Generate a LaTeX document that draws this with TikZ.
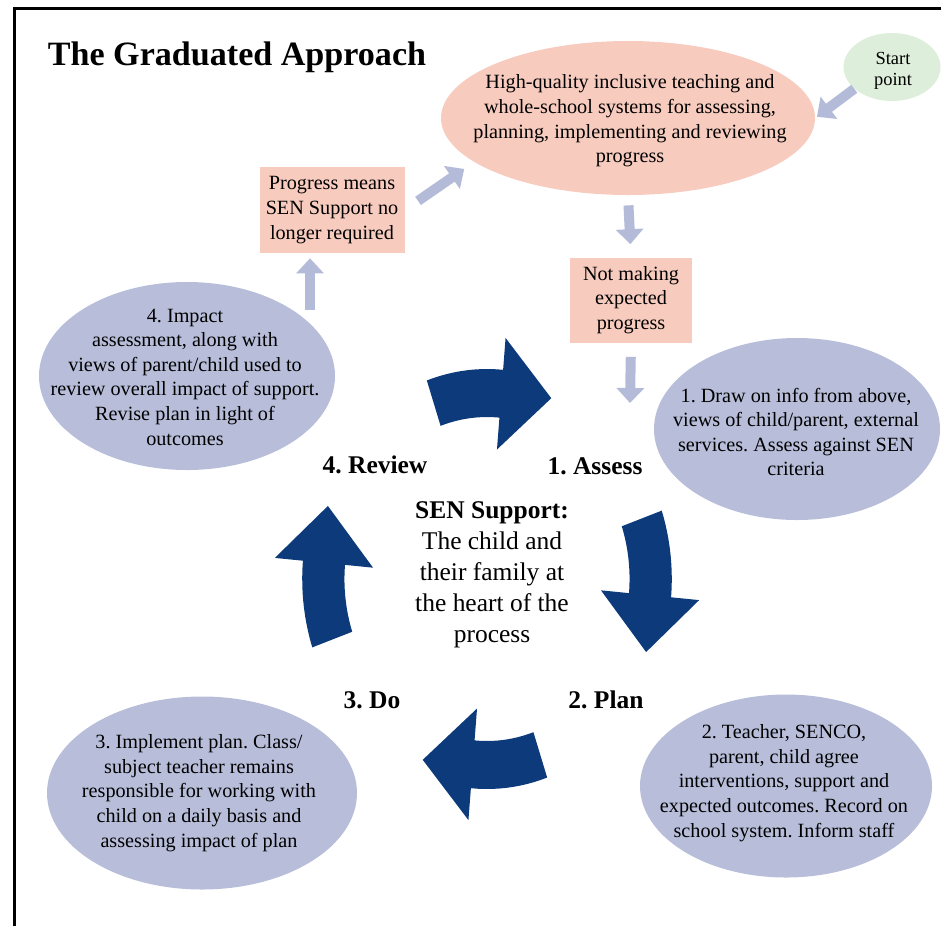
\documentclass[tikz,border=0pt]{standalone}
\usepackage{fontspec}
\setmainfont{Liberation Serif}
\usepackage{tikz}
\usetikzlibrary{positioning,shapes.geometric,arrows.meta}
\definecolor{pinkfill}{HTML}{F7CBBE}
\definecolor{greenfill}{HTML}{DDEEDA}
\definecolor{bluefill}{HTML}{B8BEDA}
\definecolor{flowblue}{HTML}{B4BBD8}
\definecolor{navy}{HTML}{0C3A7A}
\frenchspacing

\begin{document}
\begin{tikzpicture}[x=0.2mm, y=-0.2mm,
    bodytext/.style={align=center, font=\fontsize{11.5}{14}\selectfont, inner sep=0pt},
    pinkoval/.style={ellipse, fill=pinkfill, inner sep=0pt},
    greenoval/.style={ellipse, fill=greenfill, inner sep=0pt},
    blueoval/.style={ellipse, fill=bluefill, inner sep=0pt},
    pinkbox/.style={rectangle, fill=pinkfill, inner sep=0pt},
    stagelabel/.style={font=\fontsize{14.5}{17.6}\selectfont\bfseries},
    flowarrow/.style={draw=flowblue, line width=2mm, -{Triangle[width=5.4mm,length=3mm]}},
    cyclearrow/.style={fill=navy}
]
\useasboundingbox (0,0) rectangle (941,926);
\draw[line width=0.6mm] (14.5,926) -- (14.5,8.5) -- (941,8.5);

\node[font=\fontsize{19.4}{23}\selectfont\bfseries](title) at (237,57){The Graduated Approach};

\node[pinkoval, minimum width=74.8mm, minimum height=30.8mm](top) at (628,118){};
\node[bodytext](toptext) at (630,121){High-quality inclusive teaching and\\whole-school systems for assessing,\\planning, implementing and reviewing\\progress};
\node[greenoval, minimum width=19.4mm, minimum height=13.6mm](start) at (892,67){};
\node[align=center, font=\fontsize{10.5}{12}\selectfont, inner sep=0pt](starttext) at (893,71){Start\\point};

\node[pinkbox, bodytext, minimum width=24.4mm, minimum height=17mm](notmaking) at (631,300){Not making\\expected\\progress};
\node[pinkbox, bodytext, minimum width=29mm, minimum height=17.2mm](progress) at (332,210){Progress means\\SEN Support no\\longer required};

\node[blueoval, minimum width=59.2mm, minimum height=37.6mm](impact) at (187,376){};
\node[bodytext](impacttext) at (185,377){4. Impact\\assessment, along with\\views of parent/child used to\\review overall impact of support.\\Revise plan in light of\\outcomes};
\node[blueoval, minimum width=57.2mm, minimum height=36.4mm](draw) at (797,429){};
\node[bodytext](drawtext) at (796,432){1. Draw on info from above,\\views of child/parent, external\\services. Assess against SEN\\criteria};
\node[blueoval, minimum width=58.4mm, minimum height=36.6mm](agree) at (786,786){};
\node[bodytext](agreetext) at (784,783){2. Teacher, SENCO,\\parent, child agree\\interventions, support and\\expected outcomes. Record on\\school system. Inform staff};
\node[blueoval, minimum width=62mm, minimum height=38.6mm](implement) at (202,793){};
\node[bodytext](implementtext) at (199,793){3. Implement plan. Class/\\subject teacher remains\\responsible for working with\\child on a daily basis and\\assessing impact of plan};

\node[stagelabel](review) at (375,465){4. Review};
\node[stagelabel](assess) at (595,466){1. Assess};
\node[stagelabel](plan) at (606,700){2. Plan};
\node[stagelabel](do) at (372,700){3. Do};
\node[align=center, font=\fontsize{14.5}{17.6}\selectfont](heart) at (492,575){\textbf{SEN Support:}\\The child and\\their family at\\the heart of the\\process};

\coordinate (assessin) at (630,403);
\coordinate (reviewout) at (310,310);
\draw[flowarrow, shorten >=0.4mm] (start.210) -- (top.east);
\draw[flowarrow, shorten <=2mm, shorten >=2.6mm] (top.south) -- (notmaking.north);
\draw[flowarrow, shorten <=2.8mm] (notmaking.south) -- (assessin);
\draw[flowarrow, shorten <=3.2mm, shorten >=2.4mm] (progress.east) -- (top.196);
\draw[flowarrow, shorten >=1mm] (reviewout) -- (reviewout |- progress.south);

\begin{scope}[shift={(487,579)}, xscale=0.88, yscale=-1]
\foreach \a in {109,19,-71,-161} {
  \pgfmathsetmacro{\b}{\a-24}
  \pgfmathsetmacro{\c}{\a-41}
  \fill[cyclearrow] plot[domain=\a:\b, samples=12] (\x:210) -- (\b:242) -- (\c:195) -- (\b:130) -- plot[domain=\b:\a, samples=12] (\x:162) -- cycle;
}
\end{scope}
\end{tikzpicture}
\end{document}
